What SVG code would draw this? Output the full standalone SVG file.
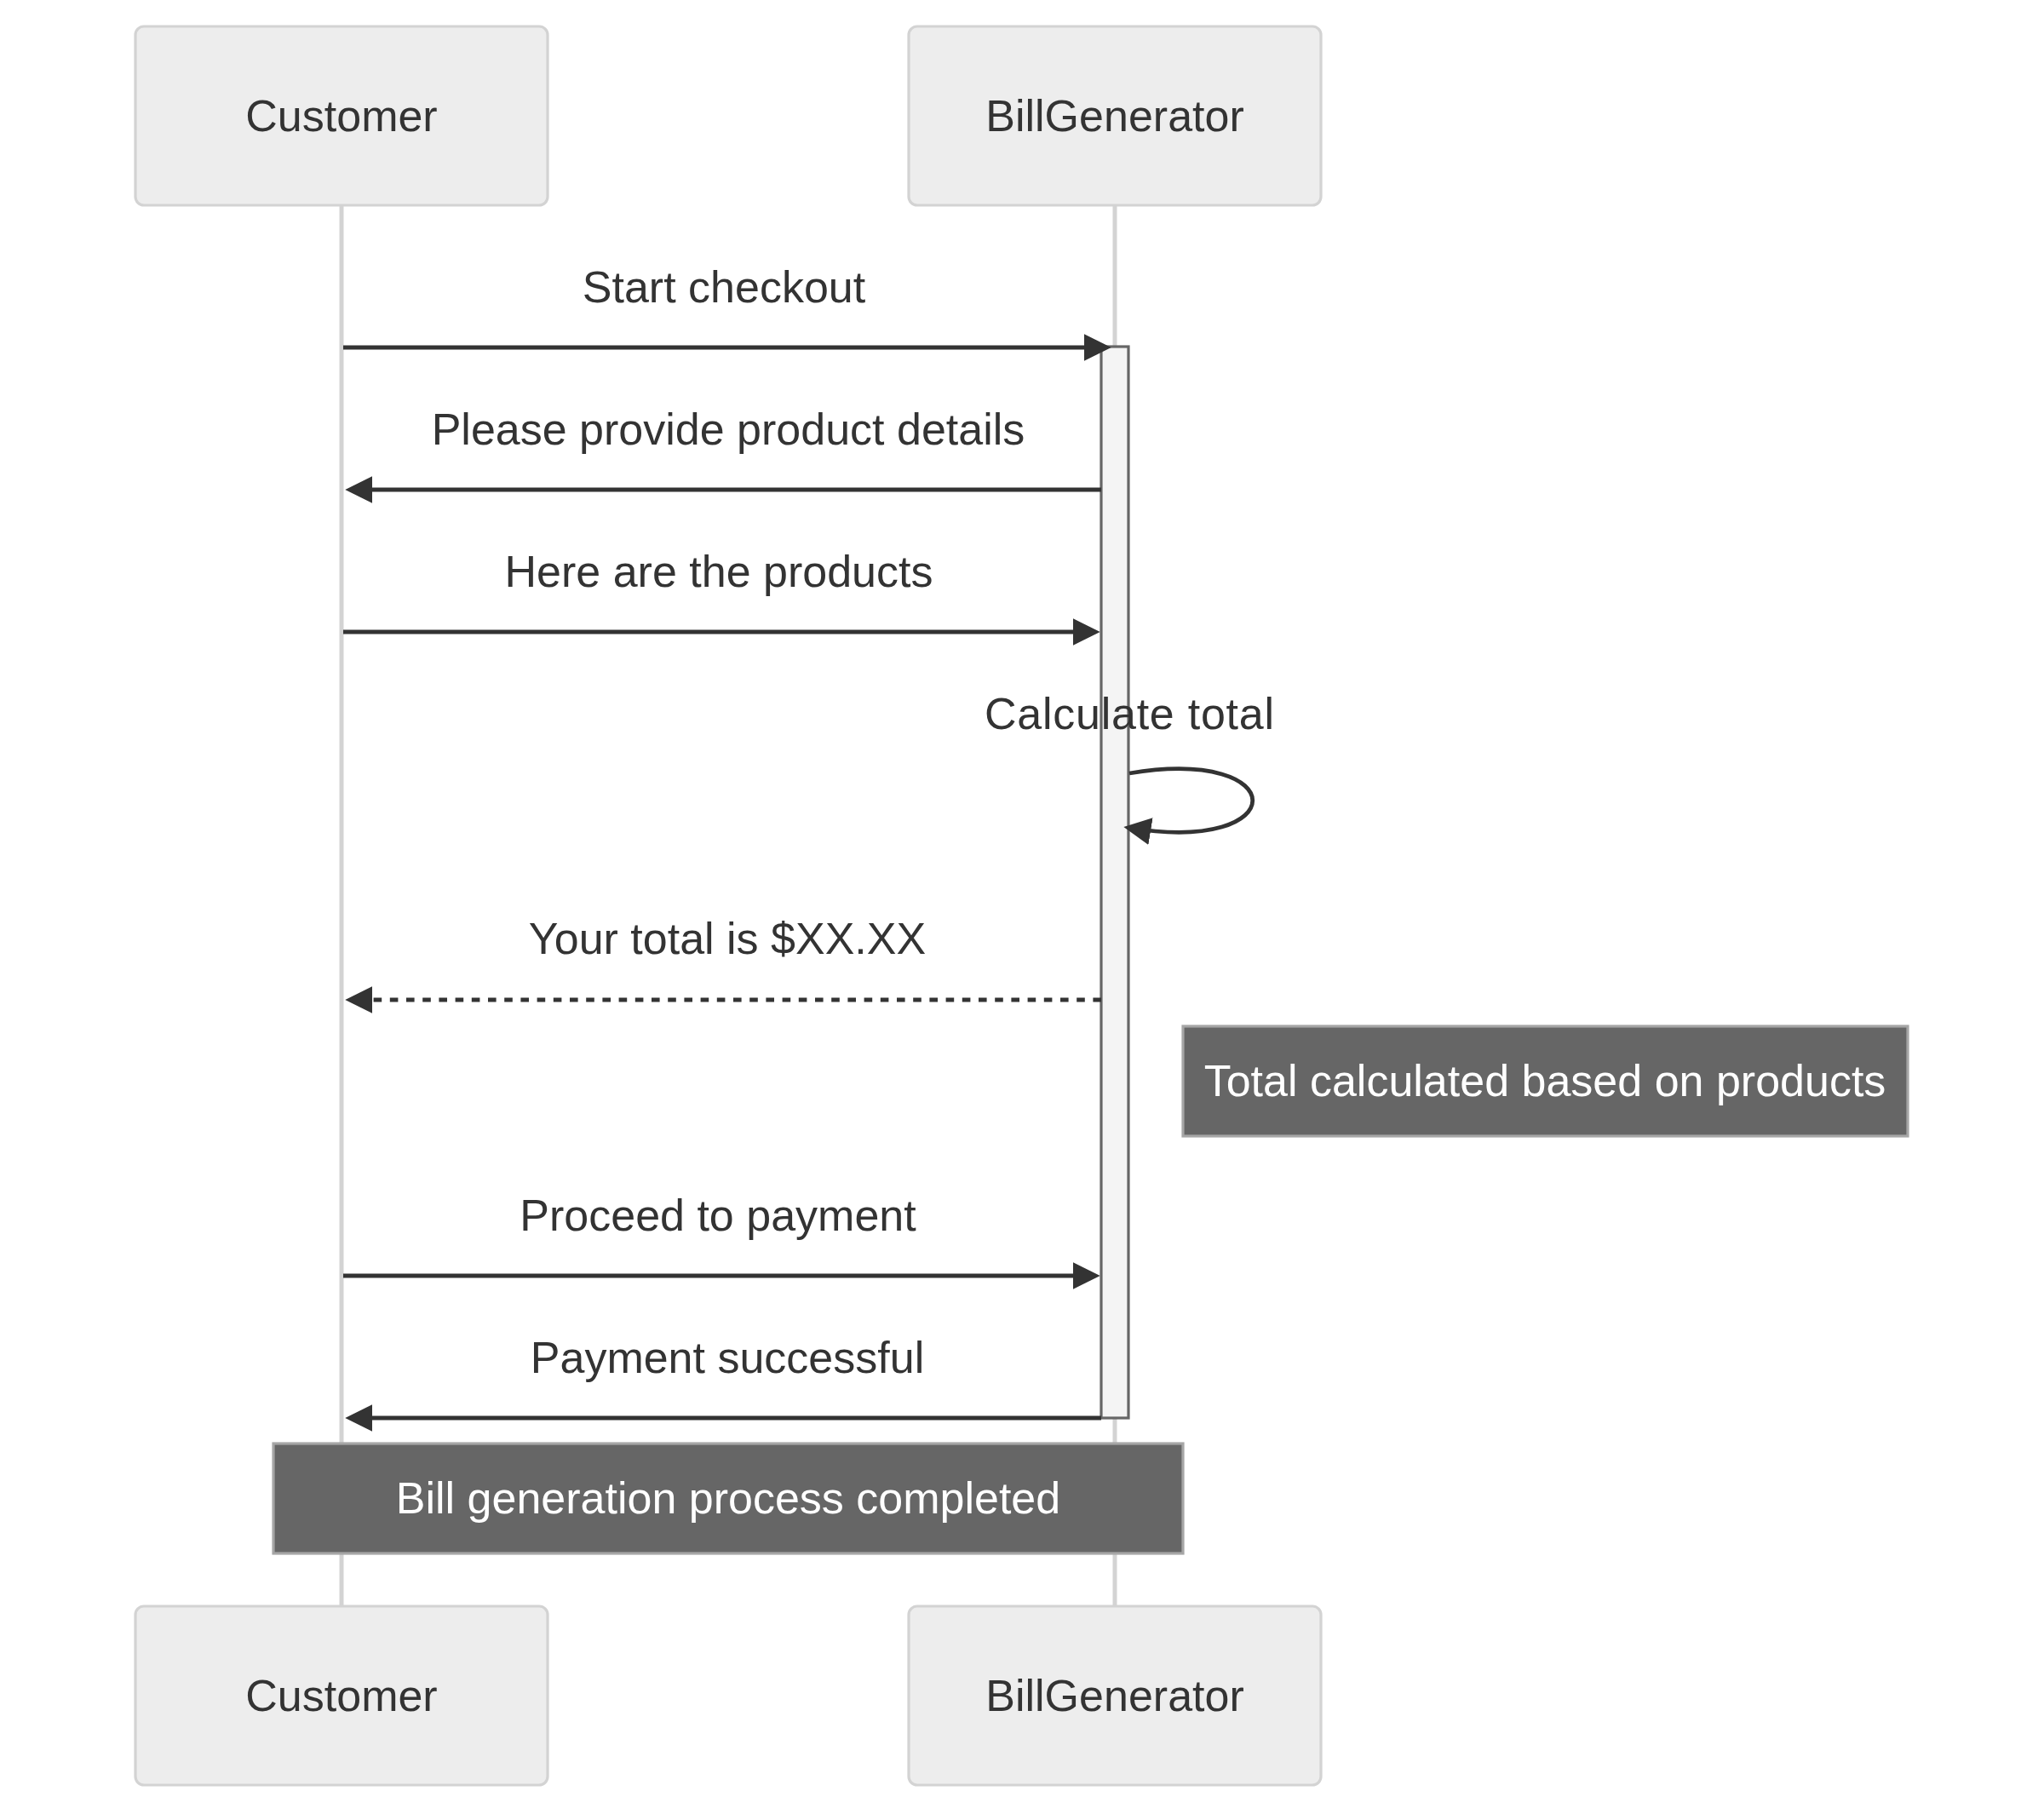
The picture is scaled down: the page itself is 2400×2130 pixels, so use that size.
<svg xmlns="http://www.w3.org/2000/svg" width="2400" height="2130" viewBox="0 0 2400 2130">
<style>
text{font-family:"Liberation Sans",Arial,sans-serif;font-size:52px;fill:#333;text-anchor:middle;dominant-baseline:central}
.actor rect{fill:#ededed;stroke:#d3d3d3;stroke-width:3.2}
.life{stroke:#d3d3d3;stroke-width:5}
.msg{stroke:#333;stroke-width:4.8;fill:none}
.dash{stroke-dasharray:9.6 9.6}
.note rect{fill:#666;stroke:#a6a6a6;stroke-width:3.2}
.note text{fill:#fff}
.act{fill:#f4f4f4;stroke:#666;stroke-width:3.2}
</style>
<defs>
<marker id="ah" viewBox="0 0 12 12" markerWidth="38.5" markerHeight="38.5" refX="7.9" refY="5" orient="auto" markerUnits="userSpaceOnUse">
<path d="M0,0 L10,5 L0,10 z" fill="#333"/>
</marker>
</defs>
<g id="lifelines">
<line class="life" x1="401" y1="241" x2="401" y2="1886"/>
<line class="life" x1="1309" y1="241" x2="1309" y2="1886"/>
</g>
<g id="customer-top" class="actor"><rect x="159" y="31" width="484" height="210" rx="10"/><text x="401" y="136">Customer</text></g>
<g id="billgen-top" class="actor"><rect x="1067" y="31" width="484" height="210" rx="10"/><text x="1309" y="136">BillGenerator</text></g>
<g id="customer-bottom" class="actor"><rect x="159" y="1886" width="484" height="210" rx="10"/><text x="401" y="1991">Customer</text></g>
<g id="billgen-bottom" class="actor"><rect x="1067" y="1886" width="484" height="210" rx="10"/><text x="1309" y="1991">BillGenerator</text></g>
<g id="activation"><rect class="act" x="1293" y="407" width="32" height="1258"/></g>
<g id="connectors">
<line class="msg" x1="403" y1="408" x2="1298" y2="408" marker-end="url(#ah)"/>
<text x="850" y="337">Start checkout</text>
<line class="msg" x1="1293" y1="575" x2="412" y2="575" marker-end="url(#ah)"/>
<text x="855" y="504">Please provide product details</text>
<line class="msg" x1="403" y1="742" x2="1285" y2="742" marker-end="url(#ah)"/>
<text x="844" y="671">Here are the products</text>
<path class="msg" d="M1326,908 C1519,876 1519,1004 1326,972" marker-end="url(#ah)"/>
<text x="1326" y="838" textLength="340">Calculate total</text>
<line class="msg dash" x1="1293" y1="1174" x2="412" y2="1174" marker-end="url(#ah)"/>
<text x="854" y="1102">Your total is $XX.XX</text>
<line class="msg" x1="403" y1="1498" x2="1285" y2="1498" marker-end="url(#ah)"/>
<text x="843" y="1427">Proceed to payment</text>
<line class="msg" x1="1293" y1="1665" x2="412" y2="1665" marker-end="url(#ah)"/>
<text x="854" y="1594">Payment successful</text>
</g>
<g id="note-total" class="note"><rect x="1389" y="1205" width="851" height="129"/><text x="1814" y="1269">Total calculated based on products</text></g>
<g id="note-bill" class="note"><rect x="321" y="1695" width="1068" height="129"/><text x="855" y="1759">Bill generation process completed</text></g>
</svg>
